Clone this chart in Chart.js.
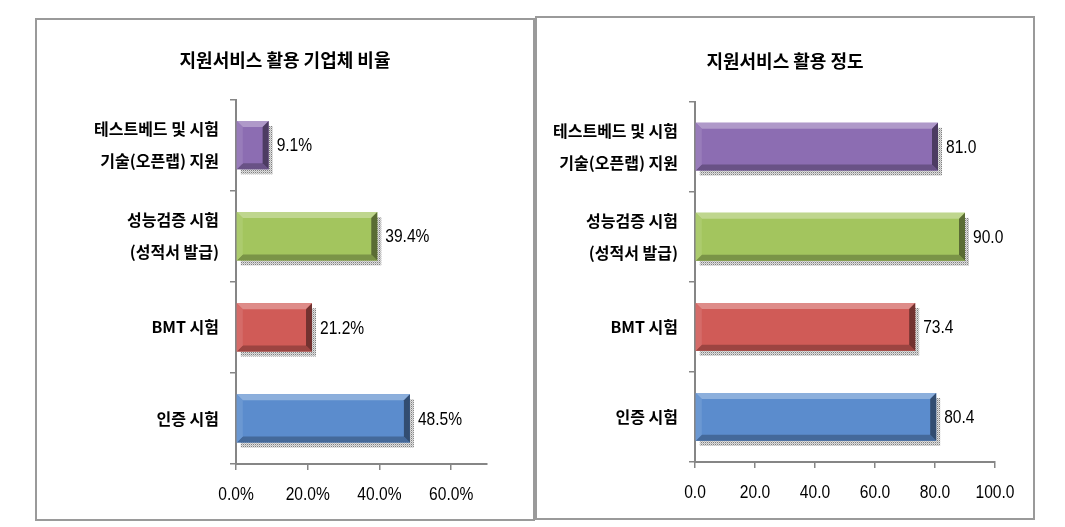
<!DOCTYPE html>
<html>
<head>
<meta charset="utf-8">
<script src="https://cdn.jsdelivr.net/npm/chart.js@4.4.1/dist/chart.umd.min.js"></script>
<style>
body { margin: 0; background: #fff; width: 1065px; height: 527px; position: relative; overflow: hidden; }
.panel { position: absolute; box-sizing: border-box; border: 2px solid #9a9a9a; background: #fff; }
#p1 { left: 35px; top: 18px; width: 500px; height: 503px; }
#p2 { left: 535px; top: 16px; width: 500px; height: 504px; }
canvas { display: block; }
</style>
</head>
<body>
<div class="panel" id="p1"><canvas id="rate" width="496" height="499"></canvas></div>
<div class="panel" id="p2"><canvas id="level" width="496" height="500"></canvas></div>
<script>
// data
var categories = [['테스트베드 및 시험', '기술(오픈랩) 지원'], ['성능검증 시험', '(성적서 발급)'], 'BMT 시험', '인증 시험'];
var rateValues = [9.1, 39.4, 21.2, 48.5];
var levelValues = [81.0, 90.0, 73.4, 80.4];
var rateTicks = [0, 20, 40, 60];
var levelTicks = [0, 20, 40, 60, 80, 100];
var barColors = ['#8c6db2', '#a3c55e', '#d05b57', '#5b8ccd'];

var korFont = '"Noto Sans CJK KR", "Noto Sans", sans-serif';
var numFont = '19px "Liberation Sans", Arial, sans-serif';

function mix(hex, target, amt) {
    var a = parseInt(hex.slice(1), 16), b = parseInt(target.slice(1), 16);
    var r = Math.round(((a >> 16) & 255) * (1 - amt) + ((b >> 16) & 255) * amt);
    var g = Math.round(((a >> 8) & 255) * (1 - amt) + ((b >> 8) & 255) * amt);
    var bl = Math.round((a & 255) * (1 - amt) + (b & 255) * amt);
    return 'rgb(' + r + ',' + g + ',' + bl + ')';
}

function poly(ctx, pts, color) {
    ctx.beginPath();
    ctx.moveTo(pts[0][0], pts[0][1]);
    for (var i = 1; i < pts.length; i++) ctx.lineTo(pts[i][0], pts[i][1]);
    ctx.closePath();
    ctx.fillStyle = color;
    ctx.fill();
}

// numbers in the original use a narrow face, squeeze the text a bit
function narrowText(ctx, text, x, y, align) {
    ctx.save();
    ctx.translate(x, y);
    ctx.scale(0.82, 1);
    ctx.font = numFont;
    ctx.fillStyle = '#000';
    ctx.textAlign = align;
    ctx.textBaseline = 'middle';
    ctx.fillText(text, 0, 0);
    ctx.restore();
}

// dotted shadow like the office charts
var dotTile = document.createElement('canvas');
dotTile.width = dotTile.height = 2;
(function () {
    var g = dotTile.getContext('2d');
    g.fillStyle = '#dedede'; g.fillRect(0, 0, 2, 2);
    g.fillStyle = '#808080'; g.fillRect(0, 0, 1, 1);
    g.fillStyle = '#bbbbbb'; g.fillRect(1, 1, 1, 1);
})();

function makeChart(id, title, values, ticks, max, fmt, yw, xh, rightPad, titlePad) {
    var bevelBars = {
        id: 'bevelBars',
        beforeDatasetsDraw: function (chart) {
            var ctx = chart.ctx;
            var pat = ctx.createPattern(dotTile, 'repeat');
            chart.getDatasetMeta(0).data.forEach(function (bar) {
                var p = bar.getProps(['x', 'y', 'base', 'height'], true);
                ctx.save();
                ctx.fillStyle = pat;
                ctx.fillRect(p.base + 4, p.y - p.height / 2 + 5, p.x - p.base, p.height);
                ctx.restore();
            });
        },
        afterDatasetsDraw: function (chart) {
            var ctx = chart.ctx;
            var ds = chart.data.datasets[0];
            chart.getDatasetMeta(0).data.forEach(function (bar, i) {
                var p = bar.getProps(['x', 'y', 'base', 'height'], true);
                var L = p.base, R = p.x, T = p.y - p.height / 2, B = p.y + p.height / 2, b = 6;
                var col = ds.backgroundColor[i];
                ctx.save();
                poly(ctx, [[L, T], [R, T], [R - b, T + b], [L + b, T + b]], mix(col, '#ffffff', 0.3));
                poly(ctx, [[L, B], [R, B], [R - b, B - b], [L + b, B - b]], mix(col, '#000000', 0.25));
                poly(ctx, [[R, T], [R, B], [R - b, B - b], [R - b, T + b]], mix(col, '#000000', 0.45));
                poly(ctx, [[L, T], [L, B], [L + b, B - b], [L + b, T + b]], mix(col, '#ffffff', 0.1));
                ctx.restore();
                narrowText(ctx, fmt(ds.data[i]), R + 8, p.y + 1, 'left');
            });
        },
        afterDraw: function (chart) {
            var sx = chart.scales.x;
            ticks.forEach(function (v) {
                narrowText(chart.ctx, fmt(v), sx.getPixelForValue(v), sx.top + 31, 'center');
            });
        }
    };

    return new Chart(document.getElementById(id), {
        type: 'bar',
        data: {
            labels: categories,
            datasets: [{
                data: values,
                backgroundColor: barColors,
                borderWidth: 0,
                barPercentage: 0.53,
                categoryPercentage: 1
            }]
        },
        options: {
            indexAxis: 'y',
            responsive: false,
            animation: false,
            devicePixelRatio: 1,
            layout: { padding: 0 },
            plugins: {
                legend: { display: false },
                tooltip: { enabled: false },
                title: {
                    display: true,
                    text: title,
                    color: '#000',
                    font: { family: korFont, size: 18, weight: 'bold', lineHeight: 1.2 },
                    padding: titlePad
                }
            },
            scales: {
                x: {
                    min: 0,
                    max: max,
                    afterBuildTicks: function (s) { s.ticks = ticks.map(function (v) { return { value: v }; }); },
                    afterFit: function (s) { s.height = xh; },
                    border: { color: '#868686', width: 2 },
                    grid: { drawOnChartArea: false, drawTicks: true, tickLength: 6, color: '#868686', lineWidth: 1.5 },
                    ticks: { display: false }
                },
                y: {
                    afterFit: function (s) { s.width = yw; },
                    border: { color: '#868686', width: 2 },
                    grid: { offset: true, drawOnChartArea: false, tickLength: 6, color: '#868686', lineWidth: 1.5 },
                    ticks: {
                        color: '#000',
                        font: { family: korFont, size: 16, weight: 'bold', lineHeight: 2.0 },
                        padding: 11,
                        crossAlign: 'near'
                    }
                },
                // empty right-hand box so the plot stops short of the frame
                pad: {
                    type: 'linear',
                    axis: 'y',
                    position: 'right',
                    grid: { display: false },
                    border: { display: false },
                    ticks: { display: false },
                    afterFit: function (s) { s.width = rightPad; }
                }
            }
        },
        plugins: [bevelBars]
    });
}

makeChart('rate', '지원서비스 활용 기업체 비율', rateValues, rateTicks, 70,
    function (v) { return Number(v).toFixed(1) + '%'; }, 199, 55, 46, { top: 29, bottom: 29 });
makeChart('level', '지원서비스 활용 정도', levelValues, levelTicks, 100,
    function (v) { return Number(v).toFixed(1); }, 158, 56, 38, { top: 32, bottom: 30 });
</script>
</body>
</html>
